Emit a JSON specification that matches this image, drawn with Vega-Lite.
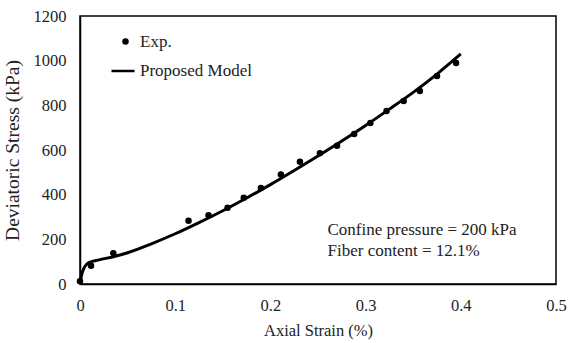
{
  "$schema": "https://vega.github.io/schema/vega-lite/v6.json",
  "width": 476,
  "height": 268,
  "autosize": "none",
  "padding": {"left": 80, "top": 16, "right": 12, "bottom": 59},
  "background": "white",
  "config": {
    "font": "Liberation Serif",
    "view": {"stroke": "black", "strokeWidth": 1.5},
    "axis": {"grid": false, "ticks": false, "labelFlush": false, "domainColor": "black", "domainWidth": 1.5, "labelFont": "Liberation Serif", "titleFont": "Liberation Serif", "labelFontSize": 16.5, "titleFontSize": 16.5, "titleFontWeight": "normal", "labelColor": "#222", "titleColor": "#222"},
    "legend": {"padding": 0, "labelFont": "Liberation Serif", "labelFontSize": 17, "labelColor": "#222", "title": null}
  },
  "datasets": {
    "exp": [
      {"strain": 0.0, "stress": 12},
      {"strain": 0.0116, "stress": 82},
      {"strain": 0.035, "stress": 138},
      {"strain": 0.114, "stress": 283},
      {"strain": 0.135, "stress": 308},
      {"strain": 0.155, "stress": 341},
      {"strain": 0.172, "stress": 386},
      {"strain": 0.19, "stress": 430},
      {"strain": 0.211, "stress": 490},
      {"strain": 0.231, "stress": 547},
      {"strain": 0.252, "stress": 586},
      {"strain": 0.27, "stress": 619},
      {"strain": 0.288, "stress": 672},
      {"strain": 0.305, "stress": 721},
      {"strain": 0.322, "stress": 775},
      {"strain": 0.34, "stress": 819},
      {"strain": 0.357, "stress": 864},
      {"strain": 0.375, "stress": 931},
      {"strain": 0.395, "stress": 990}
    ],
    "model": [
      {"strain": 0.0, "stress": 0},
      {"strain": 0.001, "stress": 25},
      {"strain": 0.002, "stress": 45},
      {"strain": 0.004, "stress": 70},
      {"strain": 0.007, "stress": 88},
      {"strain": 0.01, "stress": 97},
      {"strain": 0.02, "stress": 108},
      {"strain": 0.035, "stress": 122},
      {"strain": 0.05, "stress": 140},
      {"strain": 0.075, "stress": 180},
      {"strain": 0.1, "stress": 225},
      {"strain": 0.125, "stress": 275},
      {"strain": 0.15, "stress": 328},
      {"strain": 0.175, "stress": 385},
      {"strain": 0.2, "stress": 445},
      {"strain": 0.225, "stress": 508},
      {"strain": 0.25, "stress": 573},
      {"strain": 0.275, "stress": 640},
      {"strain": 0.3, "stress": 710},
      {"strain": 0.325, "stress": 783},
      {"strain": 0.35, "stress": 858},
      {"strain": 0.375, "stress": 940},
      {"strain": 0.4, "stress": 1030}
    ]
  },
  "layer": [
    {
      "data": {"name": "model"},
      "mark": {"type": "line", "strokeWidth": 3, "interpolate": "monotone"},
      "encoding": {
        "x": {"field": "strain", "type": "quantitative", "scale": {"domain": [0, 0.5], "nice": false, "padding": 0, "zero": false}, "axis": {"values": [0, 0.1, 0.2, 0.3, 0.4, 0.5], "format": "~g", "title": "Axial Strain (%)", "labelPadding": 13, "titlePadding": 9}},
        "y": {"field": "stress", "type": "quantitative", "scale": {"domain": [0, 1200], "nice": false, "padding": 0}, "axis": {"values": [0, 200, 400, 600, 800, 1000, 1200], "format": "d", "title": "Deviatoric Stress (kPa)", "titleFontSize": 19.5, "labelPadding": 14, "titlePadding": 11}},
        "color": {
          "datum": "Proposed Model",
          "scale": {"range": ["black"]},
          "legend": {"orient": "none", "legendX": 30, "legendY": 42, "symbolType": "stroke", "symbolSize": 529, "symbolStrokeWidth": 2.5, "symbolStrokeColor": "black", "labelOffset": 4}
        }
      }
    },
    {
      "data": {"name": "exp"},
      "mark": {"type": "point", "filled": true, "color": "black", "opacity": 1, "size": 42},
      "encoding": {
        "x": {"field": "strain", "type": "quantitative"},
        "y": {"field": "stress", "type": "quantitative"},
        "shape": {
          "datum": "Exp.",
          "scale": {"range": ["circle"]},
          "legend": {"orient": "none", "legendX": 37, "legendY": 17, "symbolSize": 42, "symbolFillColor": "black", "symbolOpacity": 1, "labelOffset": 6}
        }
      }
    },
    {
      "data": {"values": [{"note": ["Confine pressure = 200 kPa", "Fiber content = 12.1%"]}]},
      "mark": {"type": "text", "align": "left", "baseline": "middle", "font": "Liberation Serif", "fontSize": 17, "lineHeight": 21, "color": "#222"},
      "encoding": {
        "x": {"datum": 0.26, "type": "quantitative"},
        "y": {"datum": 242, "type": "quantitative"},
        "text": {"field": "note"}
      }
    }
  ]
}
